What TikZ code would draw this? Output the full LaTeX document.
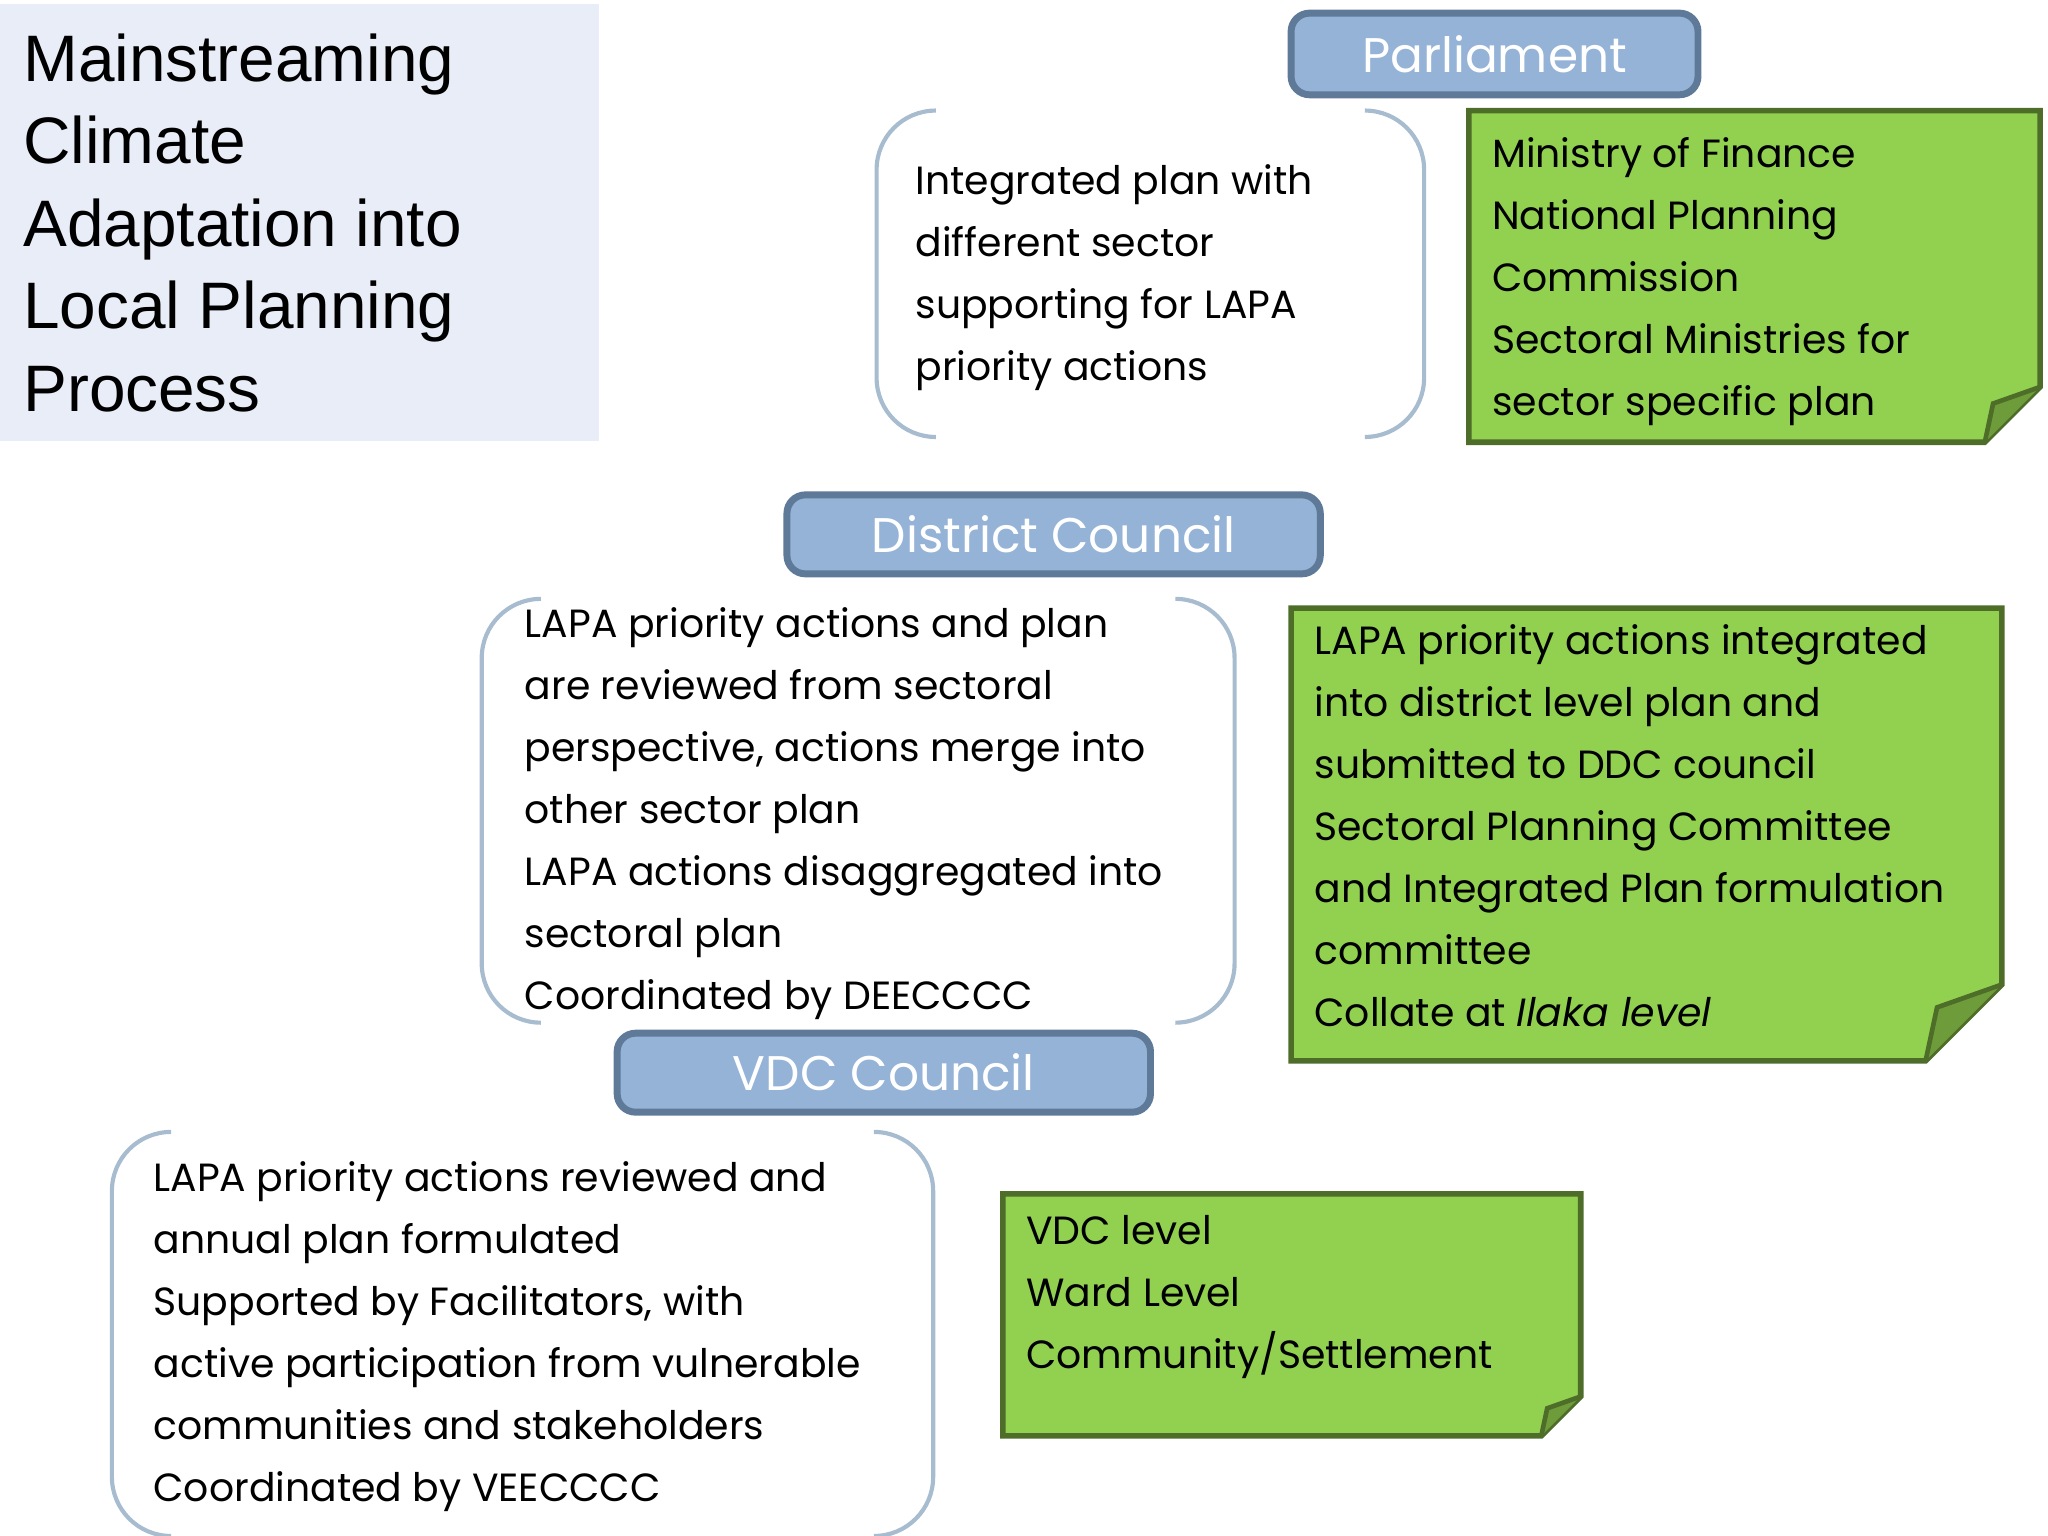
\documentclass[tikz,border=0pt]{standalone}
\usepackage{fontspec}
\setmainfont{Poppins}
\newfontfamily\titlefont{Liberation Sans}
\definecolor{hdrfill}{HTML}{95B3D7}
\definecolor{hdrdraw}{HTML}{5F7A99}
\definecolor{grn}{HTML}{92D050}
\definecolor{grndark}{HTML}{6E9C3A}
\definecolor{brk}{HTML}{A8BCCF}
\definecolor{titlebg}{HTML}{E9EDF7}
\begin{document}
\begin{tikzpicture}[x=0.01cm,y=-0.01cm,
  hdr/.style={draw=hdrdraw,line width=1.5pt,fill=hdrfill,rounded corners=4pt,text=white,font=\fontsize{10.5}{12}\selectfont},
  body/.style={anchor=north west,inner sep=0pt,align=left,font=\fontsize{8.5}{13.4}\selectfont},
  brkline/.style={draw=brk,line width=0.9pt},
  note/.style={draw=grndark!70!black,line width=1.2pt,fill=grn}]
\useasboundingbox (0,0) rectangle (1556,1167);
% title
\fill[titlebg] (0,3) rectangle (455,335);
\node[anchor=north west,inner sep=0pt,align=left,font=\titlefont\fontsize{14.2}{17.8}\selectfont] (title) at (17,25) {Mainstreaming\\Climate\\Adaptation into\\Local Planning\\Process};
% headers
\node[hdr,minimum width=3.09cm,minimum height=0.62cm] (parl) at (1135.5,41) {Parliament};
\node[hdr,minimum width=4.05cm,minimum height=0.60cm] (dc) at (800.5,406) {District Council};
\node[hdr,minimum width=4.05cm,minimum height=0.60cm] (vdc) at (671.5,815) {VDC Council};
% brackets
\newcommand{\brackets}[4]{%
 \draw[brkline] (#1+45,#2) to[out=180,in=90] (#1,#2+45) -- (#1,#4-45) to[out=-90,in=180] (#1+45,#4);
 \draw[brkline] (#3-45,#2) to[out=0,in=90] (#3,#2+45) -- (#3,#4-45) to[out=-90,in=0] (#3-45,#4);}
\brackets{666}{84}{1082}{332}
\brackets{366}{455}{938}{777}
\brackets{85}{860}{709}{1167}
% notes
\newcommand{\note}[5]{%
 \draw[note] (#1,#2) -- (#3,#2) -- (#3,#4-#5) -- (#3-#5,#4) -- (#1,#4) -- cycle;
 \fill[grndark] (#3,#4-#5) -- (#3-#5,#4) -- (#3-#5*0.85,#4-#5*0.7) -- cycle;
 \draw[grndark!70!black,line width=1pt] (#3,#4-#5) -- (#3-#5*0.85,#4-#5*0.7) -- (#3-#5,#4);}
\note{1116}{84}{1550}{336}{42}
\note{981}{462}{1521}{806}{58}
\note{762}{907}{1201}{1091}{30}
% texts
\node[body] (t1) at (695,124) {Integrated plan with\\different sector\\supporting for LAPA\\priority actions};
\node[body] (g1) at (1133,104) {Ministry of Finance\\National Planning\\Commission\\Sectoral Ministries for\\sector specific plan};
\node[body] (t2) at (398,461) {LAPA priority actions and plan\\are reviewed from sectoral\\perspective, actions merge into\\other sector plan\\LAPA actions disaggregated into\\sectoral plan\\Coordinated by DEECCCC};
\node[body] (g2) at (998,474) {LAPA priority actions integrated\\into district level plan and\\submitted to DDC council\\Sectoral Planning Committee\\and Integrated Plan formulation\\committee\\Collate at \textit{Ilaka level}};
\node[body] (t3) at (116,882) {LAPA priority actions reviewed and\\annual plan formulated\\Supported by Facilitators, with\\active participation from vulnerable\\communities and stakeholders\\Coordinated by VEECCCC};
\node[body] (g3) at (779,923) {VDC level\\Ward Level\\Community/Settlement};
\end{tikzpicture}
\end{document}
